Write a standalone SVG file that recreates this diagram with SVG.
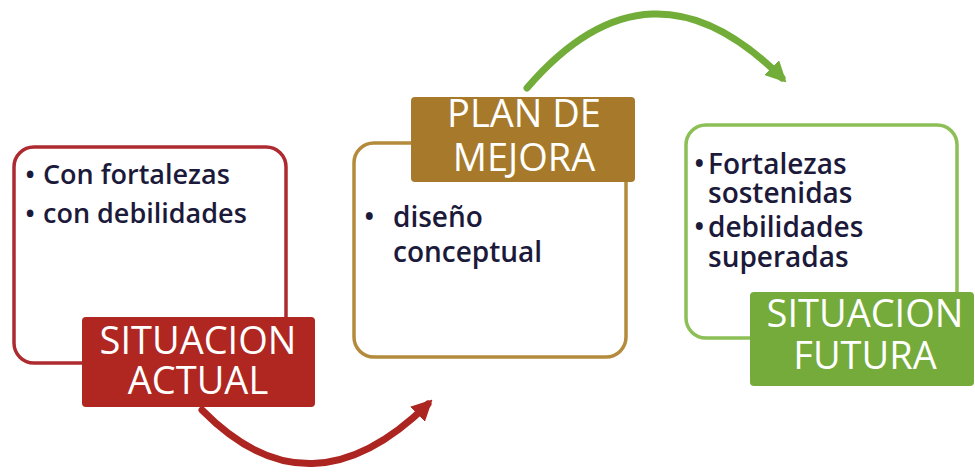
<svg xmlns="http://www.w3.org/2000/svg" width="975" height="472" viewBox="0 0 975 472">
<defs>
<style>
.box{fill:#fff;stroke-width:3.5}
.txt{font-family:"Open Sans","Liberation Sans",sans-serif;font-size:28px;font-weight:600;fill:#1c1a3a}
.sm{font-size:27px}
.lbl{font-family:"Open Sans","Liberation Sans",sans-serif;font-size:38px;fill:#fff;text-anchor:middle}
.conn{fill:none;stroke-width:7;stroke-linecap:round}
</style>
<marker id="ahR" viewBox="0 0 10 10" refX="7" refY="5" markerWidth="3" markerHeight="3" orient="auto" markerUnits="strokeWidth"><path d="M0,0 L10,5 L0,10 z" fill="#ad2520"/></marker>
<marker id="ahG" viewBox="0 0 10 10" refX="7" refY="5" markerWidth="3" markerHeight="3" orient="auto" markerUnits="strokeWidth"><path d="M0,0 L10,5 L0,10 z" fill="#72ad3a"/></marker>
</defs>
<rect width="975" height="472" fill="#fff"/>
<g id="connectors">
<path class="conn" stroke="#ad2520" d="M202,410 Q310,520 428,404" marker-end="url(#ahR)"/>
<path class="conn" stroke="#72ad3a" d="M527,88 Q650,-55 782,78" marker-end="url(#ahG)"/>
</g>
<g id="situacion-actual">
<rect class="box" x="14" y="147" width="272" height="216" rx="20" stroke="#ad2b30"/>
<text class="txt sm" x="25" y="184">•<tspan x="43">Con fortalezas</tspan></text>
<text class="txt sm" x="25" y="223">•<tspan x="43">con debilidades</tspan></text>
<rect x="82" y="317" width="233" height="90" rx="4" fill="#b02620"/>
<text class="lbl" x="198" y="354">SITUACION</text>
<text class="lbl" x="198" y="394">ACTUAL</text>
</g>
<g id="plan-de-mejora">
<rect class="box" x="354" y="143" width="272" height="214" rx="20" stroke="#b48a3c"/>
<text class="txt" x="364" y="227">•<tspan x="393">diseño</tspan></text>
<text class="txt" x="393" y="262">conceptual</text>
<rect x="411" y="97" width="224" height="85" rx="4" fill="#a67a2a"/>
<text class="lbl" x="524" y="127">PLAN DE</text>
<text class="lbl" x="524" y="171">MEJORA</text>
</g>
<g id="situacion-futura">
<rect class="box" x="686" y="125" width="271" height="213" rx="20" stroke="#8cbf55"/>
<text class="txt" x="694" y="174">•<tspan x="708">Fortalezas</tspan></text>
<text class="txt" x="708" y="203">sostenidas</text>
<text class="txt" x="694" y="237">•<tspan x="708">debilidades</tspan></text>
<text class="txt" x="708" y="267">superadas</text>
<rect x="750" y="292" width="224" height="94" rx="4" fill="#74ab3a"/>
<text class="lbl" x="865" y="327">SITUACION</text>
<text class="lbl" x="865" y="369">FUTURA</text>
</g>
</svg>
